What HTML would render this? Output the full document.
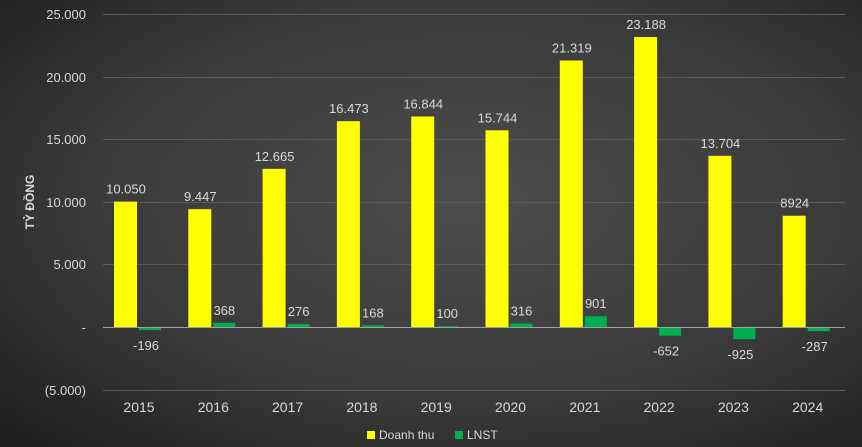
<!DOCTYPE html>
<html><head><meta charset="utf-8"><style>
html,body{margin:0;width:862px;height:447px;overflow:hidden;background:#2a2a2a}
svg{display:block}
</style></head><body>
<svg width="862" height="447" xmlns="http://www.w3.org/2000/svg" font-family="Liberation Sans, sans-serif">
<defs><radialGradient id="g" cx="0.55" cy="0.45" r="0.75">
<stop offset="0" stop-color="#4c4c4c"/><stop offset="0.6" stop-color="#3a3a3a"/><stop offset="1" stop-color="#1e1e1e"/></radialGradient></defs>
<rect width="862" height="447" fill="url(#g)"/>
<g stroke="#5a5a5a" stroke-width="1">
<line x1="103" x2="845" y1="14.5" y2="14.5"/>
<line x1="103" x2="845" y1="77.5" y2="77.5"/>
<line x1="103" x2="845" y1="139.5" y2="139.5"/>
<line x1="103" x2="845" y1="202.5" y2="202.5"/>
<line x1="103" x2="845" y1="264.5" y2="264.5"/>
<line x1="103" x2="845" y1="390.5" y2="390.5"/>
</g>
<g fill="#d9d9d9" font-size="13" text-anchor="end">
<text x="86" y="19">25.000</text><text x="86" y="82">20.000</text><text x="86" y="144">15.000</text>
<text x="86" y="207">10.000</text><text x="86" y="269">5.000</text><text x="86" y="332">-</text><text x="86" y="395">(5.000)</text>
</g>
<text transform="translate(34,202) rotate(-90)" fill="#d9d9d9" font-size="12" font-weight="bold" text-anchor="middle">TỶ ĐỒNG</text>
<g id="bars"></g>
<line x1="103" x2="845" y1="327.5" y2="327.5" stroke="#a0a0a0" stroke-width="1"/>
<g font-size="13" fill="#d9d9d9" text-anchor="middle" id="labels"></g>
<rect x="367" y="431" width="8" height="8" fill="#ffff00"/>
<text x="379" y="439" fill="#d9d9d9" font-size="12">Doanh thu</text>
<rect x="455" y="431" width="8" height="8" fill="#00b050"/>
<text x="467" y="439" fill="#d9d9d9" font-size="12">LNST</text>
<script>
var d=[[2015,10050,-196,"10.050"],[2016,9447,368,"9.447"],[2017,12665,276,"12.665"],[2018,16473,168,"16.473"],[2019,16844,100,"16.844"],[2020,15744,316,"15.744"],[2021,21319,901,"21.319"],[2022,23188,-652,"23.188"],[2023,13704,-925,"13.704"],[2024,8924,-287,"8924"]];
var ns="http://www.w3.org/2000/svg",b=document.getElementById("bars"),l=document.getElementById("labels");
function el(p,t,a,tx){var e=document.createElementNS(ns,t);for(var k in a)e.setAttribute(k,a[k]);if(tx)e.textContent=tx;p.appendChild(e);}
var k=0.012526,z=327.5;
d.forEach(function(r,i){var c=139+i*74.3;
var yt=z-r[1]*k;el(b,"rect",{x:c-25,y:yt,width:23,height:z-yt,fill:"#ffff00"});
el(l,"text",{x:c-13,y:yt-8},r[3]);
var h=Math.abs(r[2])*k;
if(r[2]>0){el(b,"rect",{x:c,y:z-h,width:22,height:h,fill:"#00b050"});el(l,"text",{x:c+11,y:z-h-8},String(r[2]));}
else{el(b,"rect",{x:c,y:z,width:22,height:h,fill:"#00b050"});el(l,"text",{x:c+7,y:z+h+20},String(r[2]));}
el(l,"text",{x:c,y:412,"font-size":"14"},String(r[0]));
});
</script>
</svg>
</body></html>
